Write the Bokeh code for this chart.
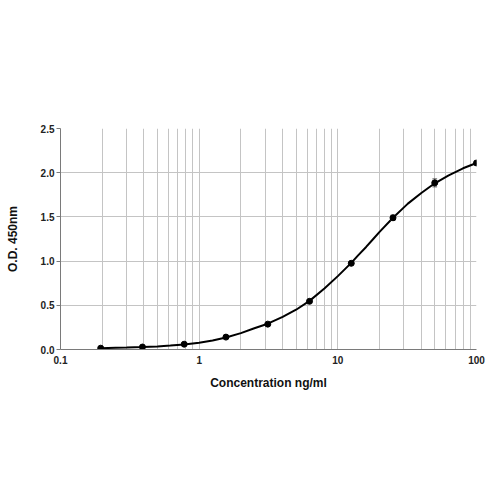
from bokeh.plotting import figure
from bokeh.models import FixedTicker, CustomJSTickFormatter, Range1d
from bokeh.embed import file_html
from bokeh.resources import INLINE

# Standard points
conc = [0.195, 0.39, 0.78, 1.56, 3.125, 6.25, 12.5, 25, 50, 100]
od = [0.015, 0.028, 0.06, 0.14, 0.287, 0.545, 0.975, 1.49, 1.885, 2.11]
err = [0.0, 0.0, 0.0, 0.01, 0.0, 0.0, 0.01, 0.03, 0.045, 0.02]

# Fitted curve
curve_x = [0.195, 0.25, 0.3, 0.39, 0.5, 0.62, 0.78, 1.0, 1.25, 1.56, 2.0, 2.5, 3.125, 4.0, 5.0,
           6.25, 8.0, 10.0, 12.5, 14.0, 16.0, 18.0, 20.0, 25.0, 32.0, 40.0, 50.0, 63.0, 80.0, 100.0]
curve_y = [0.015, 0.019, 0.022, 0.028, 0.035, 0.044, 0.056, 0.076, 0.102, 0.135, 0.185, 0.24,
           0.292, 0.37, 0.45, 0.55, 0.69, 0.83, 0.98, 1.065, 1.16, 1.25, 1.33, 1.49, 1.65, 1.77,
           1.88, 1.97, 2.05, 2.11]

x_major = [0.1, 1, 10, 100]
x_grid = [m * d for d in [0.1, 1, 10] for m in range(2, 11)]
y_ticks = [0.0, 0.5, 1.0, 1.5, 2.0, 2.5]

p = figure(width=500, height=430, x_axis_type="log", output_backend="svg",
           toolbar_location=None, x_range=Range1d(0.1, 100), y_range=Range1d(0, 2.5),
           min_border_left=60, min_border_right=24, min_border_top=128, min_border_bottom=81)
p.outline_line_color = None
p.background_fill_color = "white"
p.border_fill_color = "white"

p.xaxis.ticker = FixedTicker(ticks=x_major)
p.xgrid.ticker = FixedTicker(ticks=x_grid)
p.yaxis.ticker = FixedTicker(ticks=y_ticks)
p.ygrid.ticker = FixedTicker(ticks=y_ticks)
p.xaxis.formatter = CustomJSTickFormatter(code="return tick < 1 ? tick.toFixed(1) : tick.toFixed(0);")
p.yaxis.formatter = CustomJSTickFormatter(code="return tick.toFixed(1);")

for g in (p.xgrid, p.ygrid):
    g.grid_line_color = "#c4c4c4"
    g.grid_line_width = 1

for ax in (p.xaxis, p.yaxis):
    ax.axis_line_color = "#7a7a7a"
    ax.major_tick_line_color = "#7a7a7a"
    ax.minor_tick_line_color = None
    ax.major_label_text_font = "Liberation Sans"
    ax.major_label_text_font_style = "bold"
    ax.major_label_text_font_size = "10px"
    ax.major_label_text_color = "#222222"
    ax.axis_label_text_font = "Liberation Sans"
    ax.axis_label_text_font_style = "bold"
    ax.axis_label_text_font_size = "12px"
    ax.axis_label_text_color = "#111111"

p.xaxis.major_tick_out = 0
p.xaxis.major_tick_in = 0
p.xaxis.major_label_standoff = 6
p.yaxis.major_tick_out = 4
p.yaxis.major_tick_in = 0
p.yaxis.major_label_standoff = 2

p.xaxis.axis_label = "Concentration ng/ml"
p.yaxis.axis_label = "O.D. 450nm"
p.xaxis.axis_label_standoff = 9
p.yaxis.axis_label_standoff = 18

p.line(curve_x, curve_y, line_color="black", line_width=2)

lo = [v - e for v, e in zip(od, err)]
hi = [v + e for v, e in zip(od, err)]
lx = [c / 1.04 for c in conc]
rx = [c * 1.04 for c in conc]
p.segment(x0=conc, y0=lo, x1=conc, y1=hi, line_color="#555555", line_width=1)
p.segment(x0=lx, y0=hi, x1=rx, y1=hi, line_color="#555555", line_width=1)
p.segment(x0=lx, y0=lo, x1=rx, y1=lo, line_color="#555555", line_width=1)

p.scatter(conc, od, size=6, color="black")

open("out.html", "w").write(file_html(p, INLINE))
